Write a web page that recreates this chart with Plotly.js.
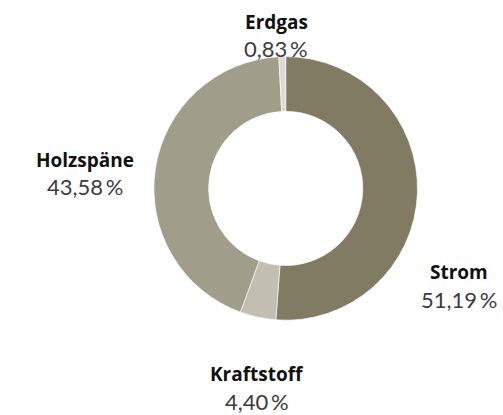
<!DOCTYPE html>
<html><head><meta charset="utf-8">
<script src="https://cdn.plot.ly/plotly-3.0.1.min.js"></script>
<style>html,body{margin:0;padding:0;background:#fff}#c{width:503px;height:415px}</style>
</head><body><div id="c"></div>
<script>
const categories = ["Strom", "Kraftstoff", "Holzspäne", "Erdgas"];
const shares = [51.19, 4.40, 43.58, 0.83];
const colors = ["#817b64", "#c2beb1", "#a19d8b", "#dcdad2"];
// label anchor positions (pixels) for each category: name line and value line
const labelX = [459, 257, 85, 276];
const nameY = [272, 374, 160, 22];
const valueY = [299, 401, 187, 48];

const W = 503, H = 415;
const fmt = v => v.toFixed(2).replace('.', ',') + '\u2009%';

const annotations = [];
categories.forEach((c, i) => {
  annotations.push({
    x: labelX[i] / W, y: 1 - nameY[i] / H, xref: 'paper', yref: 'paper',
    xanchor: 'center', yanchor: 'middle', showarrow: false,
    text: '<b>' + c + '</b>',
    font: {family: 'Open Sans, sans-serif', size: 19, color: '#111'}
  });
  annotations.push({
    x: labelX[i] / W, y: 1 - valueY[i] / H, xref: 'paper', yref: 'paper',
    xanchor: 'center', yanchor: 'middle', showarrow: false,
    text: fmt(shares[i]),
    font: {family: 'Lato, sans-serif', size: 22, color: '#3c3c3c', weight: 400}
  });
});

Plotly.newPlot('c', [{
  type: 'pie', labels: categories, values: shares, sort: false,
  direction: 'clockwise', rotation: 0, hole: 0.585,
  marker: {colors: colors, line: {color: '#ffffff', width: 0.6}},
  textinfo: 'none', hoverinfo: 'label+percent',
  domain: {x: [0.306, 0.830], y: [0.228, 0.864]}
}], {
  width: W, height: H, margin: {l: 0, r: 0, t: 0, b: 0},
  showlegend: false, paper_bgcolor: '#fff', separators: ',.',
  annotations: annotations
}, {displayModeBar: false, staticPlot: true});
</script></body></html>
